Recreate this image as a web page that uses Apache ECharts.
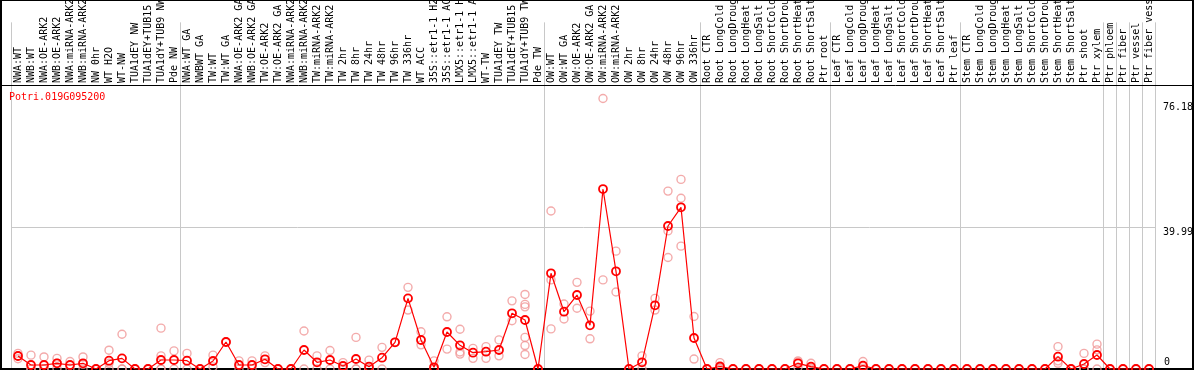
<!DOCTYPE html>
<html>
<head>
<meta charset="utf-8">
<script src="https://cdn.jsdelivr.net/npm/echarts@6/dist/echarts.min.js"></script>
<style>
html,body{margin:0;padding:0;background:#fff;}
#chart{width:1194px;height:370px;}
</style>
</head>
<body>
<div id="chart"></div>
<script>
const geneName = 'Potri.019G095200';

const categories = [
'NWA:WT','NWB:WT','NWA:OE-ARK2','NWB:OE-ARK2','NWA:miRNA-ARK2','NWB:miRNA-ARK2','NW 0hr','WT H2O','WT-NW','TUA1dEY NW','TUA1dEY+TUB15 NW','TUA1dY+TUB9 NW','Pde NW',
'NWA:WT GA','NWBWT GA','TW:WT','TW:WT GA','NWA:OE-ARK2 GA','NWB:OE-ARK2 GA','TW:OE-ARK2','TW:OE-ARK2 GA','NWA:miRNA-ARK2','NWB:miRNA-ARK2','TW:miRNA-ARK2','TW:miRNA-ARK2','TW 2hr','TW 8hr','TW 24hr','TW 48hr','TW 96hr','TW 336hr','WT ACC','35S::etr1-1 H2O','35S::etr1-1 ACC','LMX5::etr1-1 H2O','LMX5::etr1-1 ACC','WT-TW','TUA1dEY TW','TUA1dEY+TUB15 TW','TUA1dY+TUB9 TW','Pde TW',
'OW:WT','OW:WT GA','OW:OE-ARK2','OW:OE-ARK2 GA','OW:miRNA-ARK2','OW:miRNA-ARK2','OW 2hr','OW 8hr','OW 24hr','OW 48hr','OW 96hr','OW 336hr',
'Root CTR','Root LongCold','Root LongDrought','Root LongHeat','Root LongSalt','Root ShortCold','Root ShortDrought','Root ShortHeat','Root ShortSalt','Ptr root',
'Leaf CTR','Leaf LongCold','Leaf LongDrought','Leaf LongHeat','Leaf LongSalt','Leaf ShortCold','Leaf ShortDrought','Leaf ShortHeat','Leaf ShortSalt','Ptr leaf',
'Stem CTR','Stem LongCold','Stem LongDrought','Stem LongHeat','Stem LongSalt','Stem ShortCold','Stem ShortDrought','Stem ShortHeat','Stem ShortSalt','Ptr shoot','Ptr xylem',
'Ptr phloem','Ptr fiber','Ptr vessel','Ptr fiber vessel'
];

// indices of the first category of each group (gray separators on the left of these)
const groupStarts = [0, 13, 41, 53, 63, 73, 84, 85, 86, 87];

const means = [
3.66,1.13,1.13,1.6,1.13,1.6,0,2.34,3.0,0,0,2.53,2.53,
2.34,0,2.25,7.6,1.13,1.13,2.73,0,0,5.35,1.89,2.53,0.84,2.82,0.65,3.18,7.52,19.9,8.17,0.48,10.42,6.67,4.59,4.87,5.35,15.69,13.8,0,
26.95,16.14,20.84,12.31,50.69,27.51,0,1.89,17.94,40.27,45.54,8.73,
0,0.7,0,0,0,0,0,1.6,0.65,0,
0,0,0.93,0,0,0,0,0,0,0,
0,0,0,0,0,0,0,3.47,0,1.41,3.94,
0,0,0,0
];

const replicates = [
[4.4,3.7,2.9],[3.9,0,0],[3.4,0,0],[3.0,1.6,0.2],[2.1,1.1,0.2],[3.4,1.3,0],[0,0],[5.3,1.6,0],[9.8,0,0],[0,0],[0,0],[11.5,3.7,0,0],[5.1,0],
[4.4,0],[0,0],[3.9,0.6],[7.6,7.6],[2.3,0],[2.3,0],[3.7,1.8],[0,0],[0,0],[10.7,0],[3.7,0],[5.2,0],[1.8,0],[8.9,0,0],[2.5,0,0],[6.1,0],[7.5,7.5],[23.0,16.6],[10.5,6.8],[2.3,0,0],[14.7,5.6],[11.2,4.8,4.2],[5.8,3.0],[6.3,3.0],[8.2,3.7],[19.2,13.6],[21.0,18.2,17.5,8.9,6.6,4.1],[0,0],
[44.5,25.1,11.3],[18.3,14.1],[24.4,17.1],[16.3,8.5],[76.18,25.1],[33.2,21.7],[0,0],[3.7,0],[19.9,16.6],[50.1,38.9,31.4],[53.4,48.1,34.6],[14.8,2.8],
[0,0],[1.8,0.3,0],[0,0],[0,0],[0,0],[0,0],[0,0],[2.3,2.0,0.5],[1.6,0.35,0],[0,0],
[0,0],[0,0],[2.1,0.7,0],[0,0],[0,0],[0,0],[0,0],[0,0],[0,0],[0,0],
[0,0],[0,0],[0,0],[0,0],[0,0],[0,0],[0,0],[6.3,2.3,1.6],[0,0],[4.4,0,0],[7.0,5.4,0],
[0,0],[0,0],[0,0],[0,0]
];

const maxValue = 76.18;
const yMax = 79.99;
const midLabel = '39.99';

const scatterData = [];
replicates.forEach((arr, i) => arr.forEach(v => scatterData.push([i, v])));

const MONO = "'DejaVu Sans Mono', monospace";
const GRAY = '#c8c8c8';
const sepInterval = (idx) => groupStarts.indexOf(idx) >= 0;

const chart = echarts.init(document.getElementById('chart'), null, {renderer: 'canvas'});

const option = {
  animation: false,
  backgroundColor: '#fff',
  grid: [
    {left: 11.5, width: 1144, top: 0, height: 85},
    {left: 11.5, width: 1144, top: 85, height: 284}
  ],
  xAxis: [
    {
      gridIndex: 0, type: 'category', data: categories, position: 'bottom',
      axisLine: {show: false}, axisTick: {show: false},
      axisLabel: {inside: true, rotate: 90, interval: 0, margin: 2, fontFamily: MONO, fontSize: 10, color: '#000'},
      splitLine: {show: true, interval: sepInterval, lineStyle: {color: GRAY, width: 1}}
    },
    {
      gridIndex: 1, type: 'category', data: categories,
      axisLine: {show: false}, axisTick: {show: false}, axisLabel: {show: false},
      splitLine: {show: true, interval: sepInterval, lineStyle: {color: GRAY, width: 1}}
    }
  ],
  yAxis: [
    {gridIndex: 0, type: 'value', show: false, min: 0, max: 1, splitLine: {show: false}},
    {
      gridIndex: 1, type: 'value', min: 0, max: yMax, interval: yMax / 2,
      axisLine: {show: false}, axisTick: {show: false}, axisLabel: {show: false},
      splitLine: {show: true, lineStyle: {color: GRAY, width: 1}}
    }
  ],
  series: [
    {
      type: 'scatter', xAxisIndex: 1, yAxisIndex: 1, data: scatterData,
      symbol: 'circle', symbolSize: 8, z: 2,
      itemStyle: {color: 'rgba(255,255,255,0)', borderColor: '#f09696', borderWidth: 1.4}
    },
    {
      type: 'line', xAxisIndex: 1, yAxisIndex: 1, data: means,
      symbol: 'circle', symbolSize: 8, z: 3,
      lineStyle: {color: '#ff0000', width: 1.2},
      itemStyle: {color: 'rgba(255,255,255,0)', borderColor: '#ff0000', borderWidth: 1.8}
    }
  ]
};
chart.setOption(option);

const yPix = v => chart.convertToPixel({yAxisIndex: 1}, v);
const lineEl = (x1, y1, x2, y2, w) => ({type: 'line', z: 1, silent: true, shape: {x1, y1, x2, y2}, style: {stroke: '#000', lineWidth: w}});
const textEl = (x, y, text, color, va) => ({type: 'text', z: 5, x, y, style: {text, fill: color, font: "10px 'DejaVu Sans Mono', monospace", textVerticalAlign: va || 'middle', textAlign: 'left'}});

chart.setOption({
  graphic: [
    lineEl(1, 0, 1, 370, 2),
    lineEl(1193, 0, 1193, 370, 2),
    lineEl(0, 0.5, 1194, 0.5, 1),
    lineEl(0, 85.5, 1194, 85.5, 1),
    lineEl(0, 369, 1194, 369, 2),
    textEl(9, 97, geneName, '#ff0000'),
    textEl(1163, yPix(maxValue) + 8.5, String(maxValue), '#000'),
    textEl(1163, yPix(yMax / 2) + 5, midLabel, '#000'),
    textEl(1164, yPix(0) - 7, '0', '#000')
  ]
});
</script>
</body>
</html>
